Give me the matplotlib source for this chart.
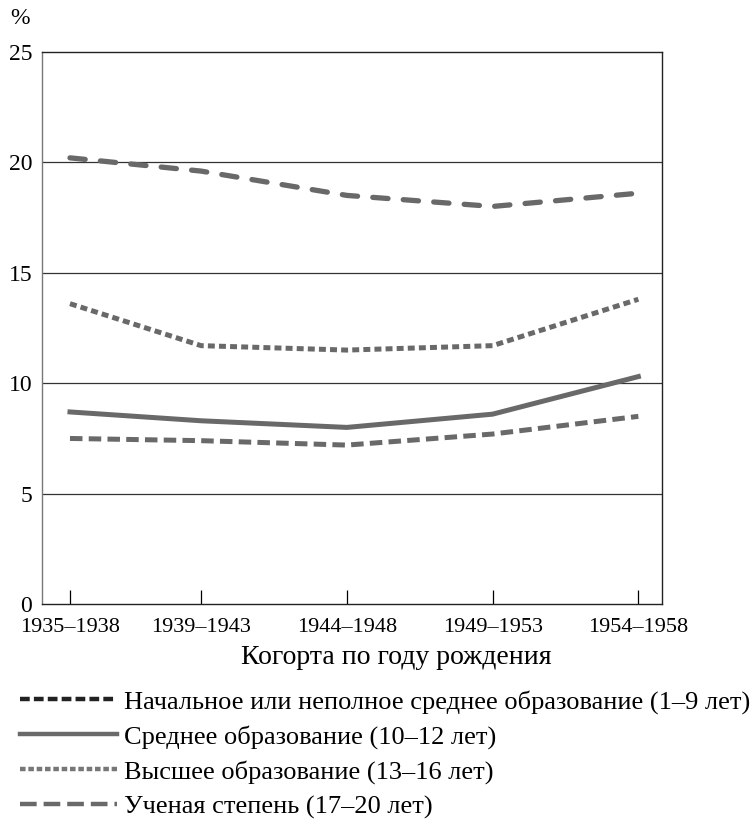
import numpy as np
import matplotlib
matplotlib.use("Agg")
import matplotlib.pyplot as plt
from matplotlib.lines import Line2D

plt.rcParams['font.family'] = ['Liberation Serif', 'DejaVu Serif']
plt.rcParams['lines.scale_dashes'] = False

# cohorts and shares (%)
cohorts = ["1935–1938", "1939–1943", "1944–1948", "1949–1953", "1954–1958"]
primary = [7.5, 7.4, 7.2, 7.7, 8.5]
secondary = [8.7, 8.3, 8.0, 8.6, 10.3]
higher = [13.6, 11.7, 11.5, 11.7, 13.8]
degree = [20.2, 19.6, 18.5, 18.0, 18.6]
labels = ["Начальное или неполное среднее образование (1–9 лет)",
          "Среднее образование (10–12 лет)",
          "Высшее образование (13–16 лет)",
          "Ученая степень (17–20 лет)"]

# x = middle year of each cohort
x = [(int(c[:4]) + int(c[5:])) / 2 for c in cohorts]

gray = "#696969"
fig = plt.figure(figsize=(7.5, 8.22), dpi=100)
ax = fig.add_axes([0.056, 0.265, 0.827, 0.672])

ax.plot(x, primary, color=gray, lw=3.6, linestyle=(0, (9, 4.5)))
ax.plot(x, secondary, color=gray, lw=3.6)
ax.plot(x, higher, color=gray, lw=3.6, linestyle=(0, (5, 3)))
ax.plot(x, degree, color=gray, lw=3.8, linestyle=(0, (11, 11)),
        dash_capstyle='round')

for v in [5, 10, 15, 20]:
    ax.axhline(v, color="#333333", lw=0.9, zorder=0)

ax.set_ylim(0, 25)
ax.set_xlim(1935.54, 1956.82)
ax.set_yticks([0, 5, 10, 15, 20, 25])
ax.set_xticks(x)
ax.set_xticklabels(cohorts)
ax.tick_params(axis='y', length=0, pad=7, labelsize=17)
ax.tick_params(axis='x', direction='in', length=10, width=0.9, pad=10, labelsize=16)
ax.spines['left'].set_color("#777777")
for s in ['top', 'right', 'bottom']:
    ax.spines[s].set_color("#222222")
for s in ax.spines.values():
    s.set_linewidth(1.0)

fig.text(20 / 750, 1 - 18 / 822, "%", fontsize=17, ha='center', va='center')
fig.text(396 / 750, 1 - 657 / 822, "Когорта по году рождения", fontsize=20,
         ha='center', va='center')

handles = [
    Line2D([], [], color="#222222", lw=3.2, linestyle=(0, (7, 3))),
    Line2D([], [], color=gray, lw=3.2),
    Line2D([], [], color="#777777", lw=3.2, linestyle=(0, (4, 2))),
    Line2D([], [], color=gray, lw=3.2, linestyle=(0, (12, 5))),
]
fig.legend(handles, labels, loc='upper left', bbox_to_anchor=(0.026, 1 - 690 / 822),
           frameon=False, fontsize=19, handlelength=3.7, handletextpad=0.27,
           labelspacing=0.42, borderaxespad=0, borderpad=0)

fig.savefig("out.png", dpi=100)
